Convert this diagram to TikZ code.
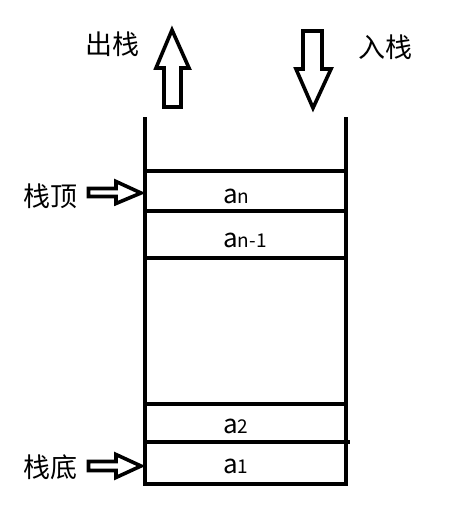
\documentclass[tikz,border=0pt]{standalone}
\usepackage{fontspec}
\setmainfont{Noto Sans CJK SC}

\begin{document}
\begin{tikzpicture}[x=1pt,y=-1pt,
  wall/.style={line width=4.5pt},
  hollow/.style={line width=3.6pt, line join=miter},
  tag/.style={font=\fontsize{27}{30}\selectfont},
  cell/.style={anchor=base west, inner sep=0pt, font=\fontsize{26}{28}\selectfont}]

\useasboundingbox (0,0) rectangle (456,516);

% stack
\draw[wall] (145,117) -- (145,484) -- (346,484) -- (346,117);
\foreach \y in {171,211,258,404}
  \draw[wall] (145,\y) -- (346,\y);
\draw[wall] (145,442) -- (350,442);

\node[cell] (An) at (223,203) {a{\fontsize{19}{20}\selectfont n}};
\node[cell] (An1) at (223,247) {a{\fontsize{19}{20}\selectfont n-1}};
\node[cell] (A2) at (223,433) {a{\fontsize{19}{20}\selectfont 2}};
\node[cell] (A1) at (223,473) {a{\fontsize{19}{20}\selectfont 1}};

% labels
\node[tag] (pop) at (112,44) {出栈};
\node[tag] (push) at (385,47) {入栈};
\node[tag] (top) at (50,196) {栈顶};
\node[tag] (bottom) at (50,467) {栈底};

% hollow arrows
\draw[hollow] (172,30) -- (189,68) -- (181,68) -- (181,107) -- (164,107)
  -- (164,68) -- (156,68) -- cycle;
\draw[hollow] (313,108) -- (331,69) -- (322,69) -- (322,31) -- (303,31)
  -- (303,69) -- (296,69) -- cycle;
\draw[hollow] (141,193) -- (116,181.5) -- (116,188.5) -- (88.5,188.5)
  -- (88.5,196.5) -- (116,196.5) -- (116,203.5) -- cycle;
\draw[hollow] (141,466) -- (116,454.5) -- (116,461.5) -- (88.5,461.5)
  -- (88.5,470.5) -- (116,470.5) -- (116,477.5) -- cycle;

\end{tikzpicture}
\end{document}
